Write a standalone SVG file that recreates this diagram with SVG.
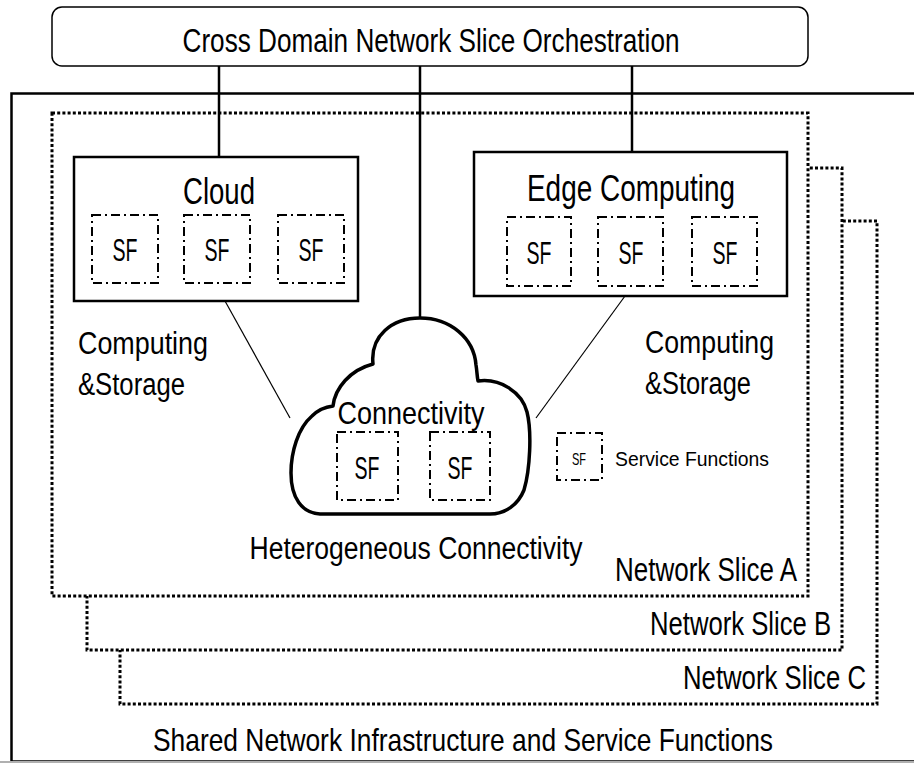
<svg xmlns="http://www.w3.org/2000/svg" width="914" height="764" viewBox="0 0 914 764">
<style>
  text{font-family:"Liberation Sans",Arial,sans-serif;fill:#000;}
  .slice{fill:#fff;stroke:#000;stroke-width:3;stroke-dasharray:3 2.2;}
  .sf{fill:none;stroke:#000;stroke-width:2;stroke-dasharray:9 4 2 4;}
  .box{fill:#fff;stroke:#000;stroke-width:2.5;}
  .link{stroke:#000;stroke-width:2.5;fill:none;}
  .thin{stroke:#000;stroke-width:1.2;fill:none;}
  .sflink{stroke:#6f8fd0;stroke-width:1.5;stroke-dasharray:6 3 2 3;fill:none;}
  .sft{font-size:31px;}
</style>
<rect width="914" height="764" fill="#fff"/>

<g id="infrastructure">
  <rect x="11.5" y="93.5" width="920" height="668" fill="#fff" stroke="#000" stroke-width="2.5"/>
  <line x1="0" y1="762" x2="914" y2="762" stroke="#b0b0b0" stroke-width="2"/>
  <text x="463" y="751" font-size="32" text-anchor="middle" textLength="620" lengthAdjust="spacingAndGlyphs">Shared Network Infrastructure and Service Functions</text>
</g>

<g id="slice-c">
  <rect class="slice" x="120" y="221" width="757" height="483"/>
  <text x="866" y="689" font-size="33" text-anchor="end" textLength="183" lengthAdjust="spacingAndGlyphs">Network Slice C</text>
</g>
<g id="slice-b">
  <rect class="slice" x="87" y="168" width="755" height="482"/>
  <text x="831" y="635" font-size="33" text-anchor="end" textLength="181" lengthAdjust="spacingAndGlyphs">Network Slice B</text>
</g>
<g id="slice-a">
  <rect class="slice" x="52" y="113" width="756" height="483"/>
  <text x="797" y="581" font-size="33" text-anchor="end" textLength="182" lengthAdjust="spacingAndGlyphs">Network Slice A</text>
</g>

<g id="orchestration">
  <rect x="52" y="7" width="756" height="59" rx="10" fill="#fff" stroke="#000" stroke-width="1.5"/>
  <text x="431" y="52" font-size="33" text-anchor="middle" textLength="497" lengthAdjust="spacingAndGlyphs">Cross Domain Network Slice Orchestration</text>
</g>

<g id="connectors">
  <line class="link" x1="219" y1="66" x2="219" y2="157"/>
  <line class="link" x1="420" y1="66" x2="420" y2="319"/>
  <line class="link" x1="632" y1="66" x2="632" y2="152"/>
  <line class="thin" x1="225" y1="301" x2="290" y2="418"/>
  <line class="thin" x1="625" y1="296" x2="536" y2="418"/>
  <line class="sflink" x1="158" y1="248" x2="184" y2="248"/>
  <line class="sflink" x1="250" y1="249" x2="278" y2="249"/>
  <line class="sflink" x1="571" y1="251" x2="598" y2="251"/>
  <line class="sflink" x1="663" y1="252" x2="692" y2="252"/>
  <line class="sflink" x1="398" y1="467" x2="430" y2="467"/>
</g>

<g id="cloud">
  <rect class="box" x="74" y="157" width="284" height="144"/>
  <text x="219" y="204" font-size="37" text-anchor="middle" textLength="72" lengthAdjust="spacingAndGlyphs">Cloud</text>
</g>
<g id="cloud-sf1"><rect class="sf" x="92" y="215" width="66" height="68"/><text class="sft" x="125" y="261" text-anchor="middle" textLength="25" lengthAdjust="spacingAndGlyphs">SF</text></g>
<g id="cloud-sf2"><rect class="sf" x="184" y="215" width="66" height="68"/><text class="sft" x="217" y="261" text-anchor="middle" textLength="25" lengthAdjust="spacingAndGlyphs">SF</text></g>
<g id="cloud-sf3"><rect class="sf" x="278" y="215" width="66" height="68"/><text class="sft" x="311" y="261" text-anchor="middle" textLength="25" lengthAdjust="spacingAndGlyphs">SF</text></g>

<g id="edge">
  <rect class="box" x="474" y="152" width="313" height="144"/>
  <text x="631" y="201" font-size="37" text-anchor="middle" textLength="208" lengthAdjust="spacingAndGlyphs">Edge Computing</text>
</g>
<g id="edge-sf1"><rect class="sf" x="507" y="217" width="64" height="69"/><text class="sft" x="539" y="264" text-anchor="middle" textLength="25" lengthAdjust="spacingAndGlyphs">SF</text></g>
<g id="edge-sf2"><rect class="sf" x="598" y="217" width="65" height="69"/><text class="sft" x="631" y="264" text-anchor="middle" textLength="25" lengthAdjust="spacingAndGlyphs">SF</text></g>
<g id="edge-sf3"><rect class="sf" x="692" y="217" width="65" height="69"/><text class="sft" x="725" y="264" text-anchor="middle" textLength="25" lengthAdjust="spacingAndGlyphs">SF</text></g>

<g id="connectivity">
  <path d="M 320,514 C 302,513 291,498 291,473 C 291,452 298,428 312,416 C 318,410 325,407 333,406 C 335,388 350,370 373,364 C 370,336 392,318 420,318 C 450,318 474,338 476,365 C 477,371 477,376 478,381 C 500,378 522,392 527,412 C 532,432 530,470 524,490 C 518,505 505,514 490,514 Z" fill="#fff" stroke="#000" stroke-width="3.5" stroke-linejoin="round"/>
  <text x="411" y="424" font-size="32" text-anchor="middle" textLength="147" lengthAdjust="spacingAndGlyphs">Connectivity</text>
</g>
<g id="conn-sf1"><rect class="sf" x="337" y="432" width="61" height="68"/><text class="sft" x="367" y="479" text-anchor="middle" textLength="25" lengthAdjust="spacingAndGlyphs">SF</text></g>
<g id="conn-sf2"><rect class="sf" x="430" y="432" width="60" height="68"/><text class="sft" x="460" y="479" text-anchor="middle" textLength="25" lengthAdjust="spacingAndGlyphs">SF</text></g>

<g id="label-left">
  <text x="78" y="354" font-size="31" textLength="130" lengthAdjust="spacingAndGlyphs">Computing</text>
  <text x="78" y="395" font-size="31" textLength="107" lengthAdjust="spacingAndGlyphs">&amp;Storage</text>
</g>
<g id="label-right">
  <text x="645" y="353" font-size="31" textLength="129" lengthAdjust="spacingAndGlyphs">Computing</text>
  <text x="645" y="394" font-size="31" textLength="106" lengthAdjust="spacingAndGlyphs">&amp;Storage</text>
</g>

<g id="label-hetero">
  <text x="416" y="559" font-size="31" text-anchor="middle" textLength="333" lengthAdjust="spacingAndGlyphs">Heterogeneous Connectivity</text>
</g>

<g id="legend">
  <rect class="sf" x="557" y="433" width="45" height="47" stroke-dasharray="7 4 2 4"/>
  <text x="579" y="465" font-size="17" text-anchor="middle" textLength="14" lengthAdjust="spacingAndGlyphs">SF</text>
  <text x="615" y="466" font-size="20" textLength="154" lengthAdjust="spacingAndGlyphs">Service Functions</text>
</g>
</svg>
